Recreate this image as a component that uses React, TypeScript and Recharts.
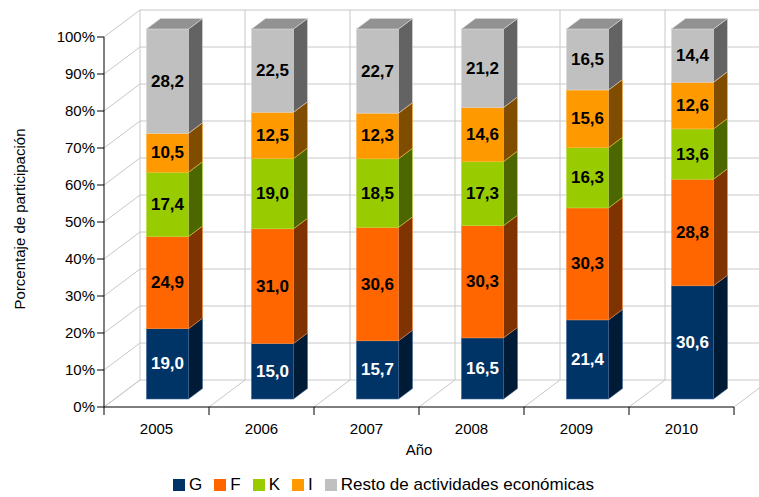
import React from "react";
import {
  BarChart,
  Bar,
  XAxis,
  YAxis,
  ReferenceLine,
  Legend,
} from "recharts";

const years = ["2005", "2006", "2007", "2008", "2009", "2010"];
const gValues = [19.0, 15.0, 15.7, 16.5, 21.4, 30.6];
const fValues = [24.9, 31.0, 30.6, 30.3, 30.3, 28.8];
const kValues = [17.4, 19.0, 18.5, 17.3, 16.3, 13.6];
const iValues = [10.5, 12.5, 12.3, 14.6, 15.6, 12.6];
const restoValues = [28.2, 22.5, 22.7, 21.2, 16.5, 14.4];
const yTicks = [0, 0.1, 0.2, 0.3, 0.4, 0.5, 0.6, 0.7, 0.8, 0.9, 1];

const series = [
  { key: "G", name: "G", color: "#003366", side: "#001b36", edge: "#3d6a9c", text: "#ffffff" },
  { key: "F", name: "F", color: "#ff6600", side: "#7f3300", edge: "#ff8a3d", text: "#000000" },
  { key: "K", name: "K", color: "#99cc00", side: "#4c6600", edge: "#b5dd3d", text: "#000000" },
  { key: "I", name: "I", color: "#ff9900", side: "#7f4c00", edge: "#ffb13d", text: "#000000" },
  { key: "R", name: "Resto de actividades económicas", color: "#c0c0c0", side: "#636363", edge: "#d8d8d8", text: "#000000" },
];

const data = years.map((year, i) => ({
  year,
  G: gValues[i],
  F: fValues[i],
  K: kValues[i],
  I: iValues[i],
  R: restoValues[i],
}));

const FONT = '"Liberation Sans", Arial, sans-serif';
// depth of the floor/walls and of the bars
const DX = 36;
const DY = 27;
const SHIFT_X = 10.5;
const SHIFT_Y = 8;
const BDX = 14;
const BDY = 10.5;

const fmt = (v: number) => v.toFixed(1).replace(".", ",");

function makeShape(s: (typeof series)[number], isTop: boolean) {
  return (props: any) => {
    const { x, y, width, height, payload } = props;
    const fx = x + SHIFT_X;
    const fy = y - SHIFT_Y;
    const w = width;
    const h = height;
    const side = `M${fx + w},${fy} L${fx + w + BDX},${fy - BDY} L${fx + w + BDX},${fy + h - BDY} L${fx + w},${fy + h} Z`;
    const top = `M${fx},${fy} L${fx + BDX},${fy - BDY} L${fx + w + BDX},${fy - BDY} L${fx + w},${fy} Z`;
    return (
      <g>
        <rect x={fx} y={fy} width={w} height={h} fill={s.color} stroke={s.edge} strokeWidth={0.6} />
        <path d={side} fill={s.side} stroke={s.edge} strokeWidth={0.6} />
        {isTop && <path d={top} fill="#929292" stroke="#d8d8d8" strokeWidth={0.6} />}
        <text
          x={fx + w / 2}
          y={fy + h / 2}
          textAnchor="middle"
          dominantBaseline="central"
          fill={s.text}
          fontFamily={FONT}
          fontSize={17}
          fontWeight="bold"
        >
          {fmt(payload[s.key])}
        </text>
      </g>
    );
  };
}

const HGrid = (props: any) => {
  const { x1, x2, y1 } = props;
  return (
    <path
      d={`M${x1},${y1} L${x1 + DX},${y1 - DY} L${x2 + DX},${y1 - DY}`}
      fill="none"
      stroke="#c8c8c8"
      strokeWidth={1}
    />
  );
};

const VGrid = (props: any) => {
  const { x1, y1, y2 } = props;
  const bottom = Math.max(y1, y2);
  const top = Math.min(y1, y2);
  return (
    <g>
      <path
        d={`M${x1},${bottom} L${x1 + DX},${bottom - DY} L${x1 + DX},${top - DY}`}
        fill="none"
        stroke="#c8c8c8"
        strokeWidth={1}
      />
      <line x1={x1} y1={bottom} x2={x1} y2={bottom + 8} stroke="#000" strokeWidth={1} />
    </g>
  );
};

const YLabel = (props: any) => {
  const { viewBox } = props;
  const cx = viewBox.x + 19;
  const cy = viewBox.y + viewBox.height / 2 - 3;
  return (
    <text
      x={cx}
      y={cy}
      transform={`rotate(-90, ${cx}, ${cy})`}
      textAnchor="middle"
      dominantBaseline="central"
      fontFamily={FONT}
      fontSize={15}
      fill="#000"
    >
      Porcentaje de participación
    </text>
  );
};

const renderLegend = () => (
  <div
    style={{
      height: 24,
      width: 759,
      boxSizing: "border-box",
      paddingLeft: 8,
      display: "flex",
      justifyContent: "center",
      alignItems: "center",
      gap: 12,
      fontFamily: FONT,
      fontSize: 17,
      color: "#000",
    }}
  >
    {series.map((s) => (
      <span key={s.key} style={{ display: "flex", alignItems: "center" }}>
        <span style={{ width: 12, height: 12, background: s.color, marginRight: 4 }} />
        {s.name}
      </span>
    ))}
  </div>
);

export default function App() {
  return (
    <div style={{ position: "absolute", left: 0, top: 0 }}>
      <BarChart
        width={759}
        height={497}
        data={data}
        stackOffset="expand"
        margin={{ top: 37, right: 25, left: 0, bottom: 0 }}
        style={{ fontFamily: FONT }}
      >
        {yTicks.map((t) => (
          <ReferenceLine key={`h${t}`} y={t} shape={HGrid} zIndex={-50} ifOverflow="visible" />
        ))}
        {years.map((yr) => (
          <ReferenceLine key={`v${yr}`} x={yr} position="start" shape={VGrid} zIndex={-50} ifOverflow="visible" />
        ))}
        <ReferenceLine x={years[years.length - 1]} position="end" shape={VGrid} zIndex={-50} ifOverflow="visible" />
        <XAxis
          dataKey="year"
          height={66}
          tickLine={false}
          tickSize={8}
          tickMargin={8}
          axisLine={{ stroke: "#000" }}
          tick={{ fontSize: 15, fill: "#000", fontFamily: FONT }}
          label={{ value: "Año", position: "insideTop", offset: 37, fontSize: 15, fill: "#000", fontFamily: FONT }}
        />
        <YAxis
          width={104}
          domain={[0, 1]}
          ticks={yTicks}
          tickSize={7}
          tickMargin={2}
          axisLine={{ stroke: "#000" }}
          tickLine={{ stroke: "#000" }}
          tick={{ fontSize: 15, fill: "#000", fontFamily: FONT }}
          tickFormatter={(v: number) => `${Math.round(v * 100)}%`}
          label={<YLabel />}
        />
        <Legend
          verticalAlign="bottom"
          content={renderLegend}
          wrapperStyle={{ left: 0, width: 759 }}
        />
        {series.map((s, i) => (
          <Bar
            key={s.key}
            dataKey={s.key}
            name={s.name}
            stackId="a"
            fill={s.color}
            barSize={42}
            isAnimationActive={false}
            shape={makeShape(s, i === series.length - 1)}
          />
        ))}
      </BarChart>
    </div>
  );
}
